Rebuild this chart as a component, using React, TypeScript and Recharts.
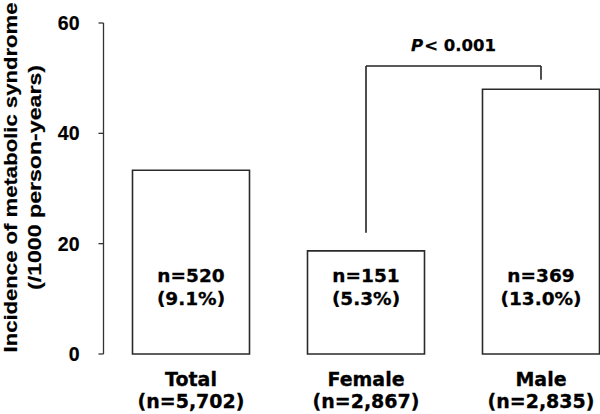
import React from 'react';
import { BarChart, Bar, XAxis, YAxis, ReferenceLine, LabelList } from 'recharts';

const categories = ['Total', 'Female', 'Male'];
const groupSizes = ['(n=5,702)', '(n=2,867)', '(n=2,835)'];
const incidence = [33.3, 18.7, 48.0];
const caseCounts = ['n=520', 'n=151', 'n=369'];
const casePercents = ['(9.1%)', '(5.3%)', '(13.0%)'];
const yTicks = [0, 20, 40, 60];
const bracketFemaleLow = 22;
const bracketTop = 52.2;
const bracketMaleLow = 49.7;
const pValueText = '< 0.001';

const data = categories.map((c, i) => ({
  name: c,
  value: incidence[i],
  cases: caseCounts[i],
  pct: casePercents[i],
  size: groupSizes[i],
}));

const LABEL_FONT = 'DejaVu Sans';
const ARIAL = 'Liberation Sans';
const INK = '#222';

const CategoryTick = (props: any) => {
  const { x, y, payload } = props;
  const idx = categories.indexOf(payload.value);
  return (
    <g fontFamily={LABEL_FONT} fontWeight="bold" fontSize={19} fill="#000" stroke="#000" strokeWidth={0.3}>
      <text x={x} y={y + 32} textAnchor="middle">
        {payload.value}
      </text>
      <text x={x} y={y + 54} textAnchor="middle">
        {groupSizes[idx]}
      </text>
    </g>
  );
};

const BarText = (props: any) => {
  const { x, y, width, height, index } = props;
  const cx = x + width / 2;
  const bottom = y + height;
  return (
    <g fontFamily={LABEL_FONT} fontWeight="bold" fontSize={18.5} fill="#000" stroke="#000" strokeWidth={0.3}>
      <text x={cx} y={bottom - 72.5} textAnchor="middle">
        {caseCounts[index]}
      </text>
      <text x={cx} y={bottom - 49} textAnchor="middle">
        {casePercents[index]}
      </text>
    </g>
  );
};

const YTitle = () => (
  <g fontFamily={ARIAL} fontWeight="bold" fontSize={19} fill="#000" stroke="#000" strokeWidth={0.2}>
    <text
      x={17}
      y={177.5}
      transform="rotate(-90, 17, 177.5)"
      textAnchor="middle"
      textLength={350}
      lengthAdjust="spacingAndGlyphs"
    >
      Incidence of metabolic syndrome
    </text>
    <text
      x={41}
      y={177.5}
      transform="rotate(-90, 41, 177.5)"
      textAnchor="middle"
      textLength={225}
      lengthAdjust="spacingAndGlyphs"
    >
      (/1000 person-years)
    </text>
  </g>
);

const YTick = (props: any) => {
  const { x, y, payload } = props;
  return (
    <g fontFamily={ARIAL} fontWeight="bold" fontSize={19.5} fill="#000" stroke="#000" strokeWidth={0.2}>
      <text x={x} y={y} dy="0.355em" textAnchor="end">
        {payload.value}
      </text>
    </g>
  );
};

const PLabel = (props: any) => {
  const vb = props.viewBox || {};
  const cx = vb.x + (vb.width || 0) / 2;
  const y = vb.y - 15;
  return (
    <g fontFamily={LABEL_FONT} fontWeight="bold" fontSize={16.5} fill="#000" stroke="#000" strokeWidth={0.25}>
      <text x={cx} y={y} textAnchor="middle">
        <tspan fontStyle="italic">P</tspan>
        <tspan dx={1}>{pValueText}</tspan>
      </text>
    </g>
  );
};

export default function App() {
  return (
    <div style={{ position: 'absolute', left: 0, top: 0, width: 600, height: 414, overflow: 'hidden', background: '#fff' }}>
      <BarChart width={630} height={414} data={data} margin={{ top: 23, right: 1.5, left: 1.5, bottom: 0 }}>
        <XAxis
          dataKey="name"
          height={60}
          axisLine={false}
          tickLine={false}
          tickSize={0}
          tickMargin={0}
          interval={0}
          tick={<CategoryTick />}
        />
        <YAxis
          width={102}
          domain={[0, 60]}
          ticks={yTicks}
          tickSize={5}
          tickMargin={19}
          axisLine={{ stroke: '#333', strokeWidth: 1.3 }}
          tickLine={{ stroke: '#333', strokeWidth: 1.3 }}
          tick={<YTick />}
          label={<YTitle />}
        />
        <Bar dataKey="value" barSize={117} fill="#fff" stroke="#2a2a2a" strokeWidth={1.6} isAnimationActive={false}>
          <LabelList dataKey="cases" content={<BarText />} />
        </Bar>
        <ReferenceLine
          segment={[{ x: 'Female', y: bracketFemaleLow }, { x: 'Female', y: bracketTop }]}
          stroke={INK}
          strokeWidth={1.6}
          ifOverflow="visible"
        />
        <ReferenceLine
          segment={[{ x: 'Female', y: bracketTop }, { x: 'Male', y: bracketTop }]}
          stroke={INK}
          strokeWidth={1.6}
          ifOverflow="visible"
          label={<PLabel />}
        />
        <ReferenceLine
          segment={[{ x: 'Male', y: bracketTop }, { x: 'Male', y: bracketMaleLow }]}
          stroke={INK}
          strokeWidth={1.6}
          ifOverflow="visible"
        />
      </BarChart>
    </div>
  );
}
